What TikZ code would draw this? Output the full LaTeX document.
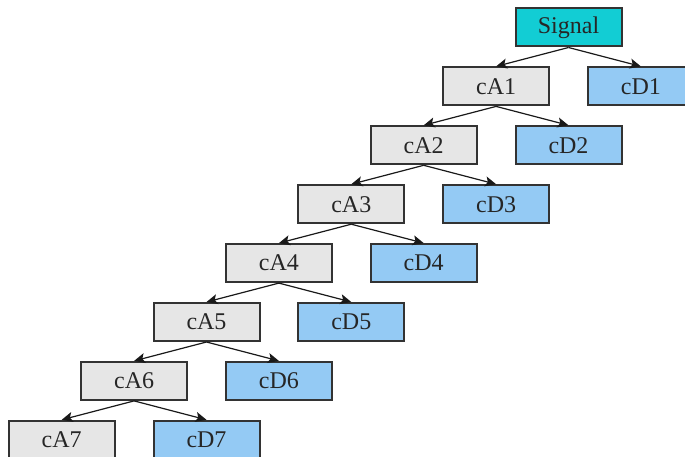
\documentclass[tikz,border=0pt]{standalone}
\usepackage{fontspec}
\setmainfont{Liberation Serif}
\usetikzlibrary{arrows.meta}
\definecolor{sigfill}{HTML}{12CDD4}
\definecolor{afill}{HTML}{E6E6E6}
\definecolor{dfill}{HTML}{94CAF4}
\definecolor{bord}{HTML}{333333}
\tikzset{
  box/.style={draw=bord, line width=2pt, minimum width=106pt, minimum height=38pt, inner sep=0pt, font=\fontsize{24}{28}\selectfont, text=black!85},
  abox/.style={box, fill=afill},
  dbox/.style={box, fill=dfill},
  sbox/.style={box, fill=sigfill},
  link/.style={draw=black!90, line width=1.2pt, -{Stealth[length=11pt,width=10pt,inset=2.5pt]}}
}
\begin{document}
\begin{tikzpicture}[x=1pt,y=1pt]
\useasboundingbox (0,0) rectangle (685,-457);
\clip (0,0) rectangle (685,-457);
\node[sbox] (a0) at (568.5,-27.5) {Signal};
\foreach \k in {1,...,7}{
  \node[abox] (a\k) at ({568.5-72.4*\k},{-27.5-58.9*\k}) {cA\k};
  \node[dbox] (d\k) at ({568.5-72.4*(\k-2)},{-27.5-58.9*\k}) {cD\k};
}
\foreach \k [evaluate=\k as \p using int(\k-1)] in {1,...,7}{
  \draw[link] (a\p.south) -- (a\k.north);
  \draw[link] (a\p.south) -- (d\k.north);
}
\end{tikzpicture}
\end{document}
